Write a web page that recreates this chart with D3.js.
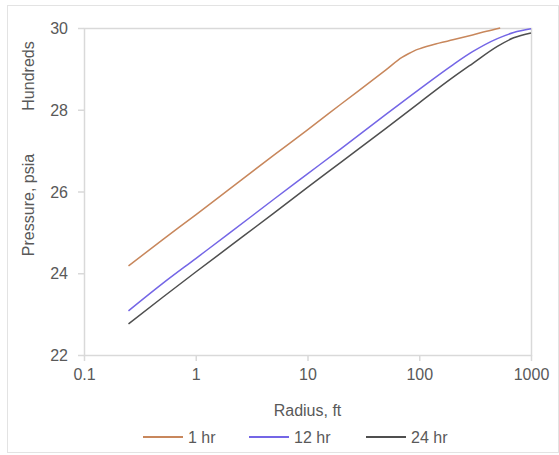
<!DOCTYPE html>
<html>
<head>
<meta charset="utf-8">
<script src="https://cdn.jsdelivr.net/npm/d3@7/dist/d3.min.js"></script>
<style>
  body { margin: 0; background: #fff; }
  svg { display: block; font-family: 'Liberation Sans', Arial, sans-serif; }
</style>
</head>
<body>
<div id="chart"></div>
<script>
// radius, ft
var radius1 = [0.25, 0.5, 1, 2, 5, 10, 20, 50, 70, 80, 90, 100, 150, 200, 300, 400, 530];
var radius = [0.25, 0.5, 1, 2, 5, 10, 20, 50, 100, 200, 300, 500, 700, 1000];

// pressure, hundreds of psia
var p1hr = [24.18, 24.81, 25.43, 26.06, 26.89, 27.51, 28.14, 28.97, 29.28, 29.37, 29.44, 29.49, 29.63, 29.71, 29.83, 29.92, 30.0];
var p12hr = [23.08, 23.74, 24.36, 24.98, 25.81, 26.43, 27.05, 27.88, 28.50, 29.10, 29.42, 29.74, 29.89, 29.98];
var p24hr = [22.76, 23.40, 24.03, 24.65, 25.47, 26.10, 26.72, 27.54, 28.17, 28.79, 29.13, 29.55, 29.76, 29.88];

var xTicks = [0.1, 1, 10, 100, 1000];
var yTicks = [22, 24, 26, 28, 30];
var seriesNames = ['1 hr', '12 hr', '24 hr'];
var colors = ['#c8875c', '#7466e6', '#4f4f4f'];

var width = 559, height = 455;
var margin = { top: 28, right: 28, bottom: 100, left: 84 };
var plotW = width - margin.left - margin.right;
var plotH = height - margin.top - margin.bottom;

var svg = d3.select('#chart').append('svg')
  .attr('width', width)
  .attr('height', height);

// chart border
svg.append('rect')
  .attr('x', 7.5).attr('y', 5.5)
  .attr('width', 551).attr('height', 447)
  .attr('fill', '#fff')
  .attr('stroke', '#e3e3e3');

var g = svg.append('g')
  .attr('transform', 'translate(' + margin.left + ',' + margin.top + ')');

var x = d3.scaleLog().domain([0.1, 1000]).range([0, plotW]);
var y = d3.scaleLinear().domain([22, 30]).range([plotH, 0]);

// plot frame
g.append('rect')
  .attr('x', 0.5).attr('y', 0.5)
  .attr('width', plotW).attr('height', plotH)
  .attr('fill', 'none')
  .attr('stroke', '#d9d9d9')
  .attr('stroke-width', 1.5);

var xAxis = d3.axisBottom(x)
  .tickValues(xTicks)
  .tickFormat(function(d) { return String(d); })
  .tickSize(6)
  .tickPadding(8);
var yAxis = d3.axisLeft(y)
  .tickValues(yTicks)
  .tickSize(6)
  .tickPadding(10);

var gx = g.append('g')
  .attr('transform', 'translate(0,' + plotH + ')')
  .call(xAxis);
var gy = g.append('g').call(yAxis);

[gx, gy].forEach(function(ax) {
  ax.select('.domain').remove();
  ax.selectAll('line').attr('stroke', '#d9d9d9').attr('stroke-width', 1.5);
  ax.selectAll('text').attr('fill', '#595959').attr('font-size', '16px');
});
gy.selectAll('text').attr('dy', '0.35em');

var line = d3.line()
  .x(function(d) { return x(d[0]); })
  .y(function(d) { return y(d[1]); })
  .curve(d3.curveMonotoneX);

var series = [
  d3.zip(radius1, p1hr),
  d3.zip(radius, p12hr),
  d3.zip(radius, p24hr)
];

g.selectAll('path.series')
  .data(series)
  .enter()
  .append('path')
  .attr('class', 'series')
  .attr('fill', 'none')
  .attr('stroke', function(d, i) { return colors[i]; })
  .attr('stroke-width', 1.5)
  .attr('d', line);

// axis titles
svg.append('text')
  .attr('x', margin.left + plotW / 2)
  .attr('y', 416)
  .attr('text-anchor', 'middle')
  .attr('fill', '#595959')
  .attr('font-size', '16px')
  .text('Radius, ft');

svg.append('text')
  .attr('transform', 'translate(34,205) rotate(-90)')
  .attr('text-anchor', 'middle')
  .attr('fill', '#595959')
  .attr('font-size', '16px')
  .text('Pressure, psia');

svg.append('text')
  .attr('transform', 'translate(34,76) rotate(-90)')
  .attr('text-anchor', 'middle')
  .attr('fill', '#595959')
  .attr('font-size', '16px')
  .text('Hundreds');

// legend
var legendX = [143, 249, 366];
var legend = svg.selectAll('g.legend')
  .data(seriesNames)
  .enter()
  .append('g')
  .attr('class', 'legend')
  .attr('transform', function(d, i) { return 'translate(' + legendX[i] + ',437)'; });
legend.append('line')
  .attr('x1', 0).attr('x2', 40)
  .attr('stroke', function(d, i) { return colors[i]; })
  .attr('stroke-width', 2);
legend.append('text')
  .attr('x', 45)
  .attr('dy', '0.35em')
  .attr('fill', '#595959')
  .attr('font-size', '16px')
  .text(function(d) { return d; });
</script>
</body>
</html>
